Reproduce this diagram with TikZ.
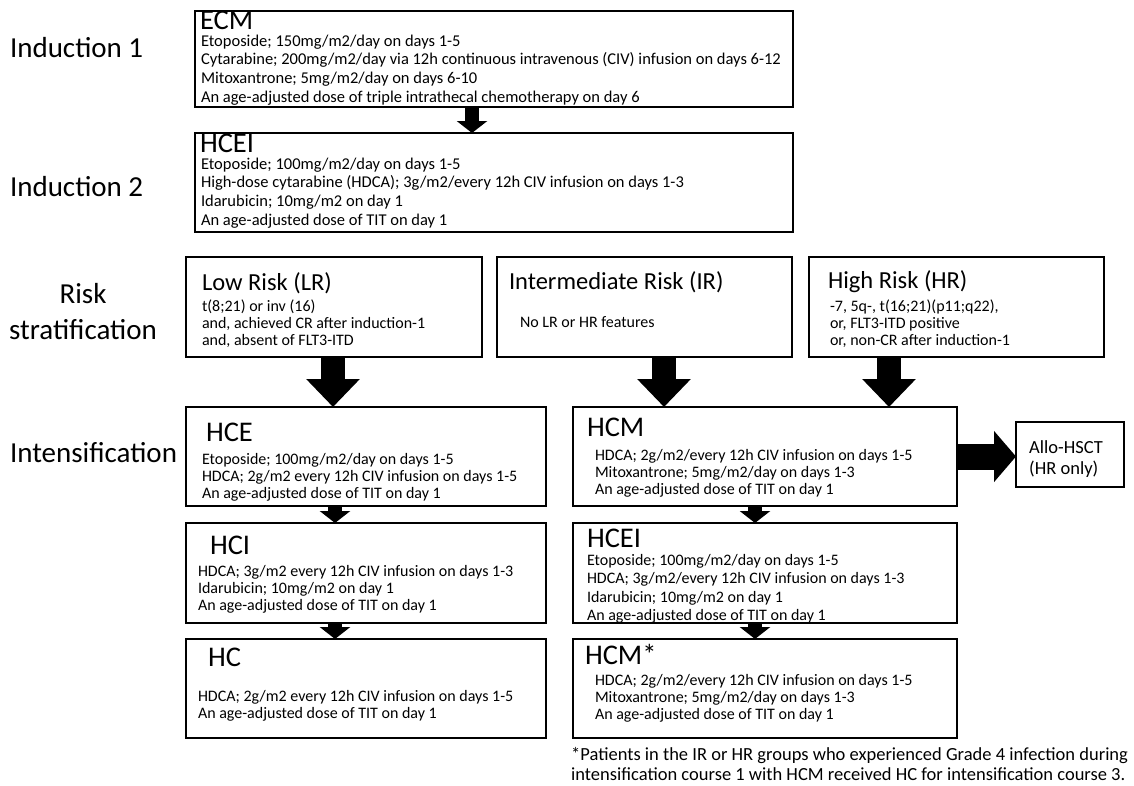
\documentclass[tikz,border=0pt]{standalone}
\usepackage{fontspec}
\setmainfont{Carlito}
\usetikzlibrary{arrows.meta}
\newcommand{\linesT}[1]{\vtop{\def\\{\egroup\hbox\bgroup\ignorespaces}\hbox\bgroup\ignorespaces #1\egroup}}
\begin{document}
\begin{tikzpicture}[x=1pt,y=-1pt,
  box/.style={draw, line width=2.6pt, outer sep=0pt, inner sep=0pt, anchor=north west},
  txt/.style={anchor=base west, inner sep=0pt, outer sep=0pt},
  lbl/.style={anchor=base west, inner sep=0pt, outer sep=0pt, font=\fontsize{29}{33}\selectfont},
  ttl/.style={txt, font=\fontsize{28.5}{30}\selectfont},
  rttl/.style={txt, font=\fontsize{24.5}{26}\selectfont},
  bodyA/.style={txt, font=\fontsize{16.5}{18.7}\selectfont},
  bodyR/.style={txt, font=\fontsize{16}{17}\selectfont},
  bodyI/.style={txt, font=\fontsize{16}{17}\selectfont},
  bodyJ/.style={txt, font=\fontsize{16}{18.5}\selectfont},
  bigarrow/.style={line width=24pt, -{Triangle[width=52pt,length=28pt]}},
  sidearrow/.style={line width=26pt, -{Triangle[width=50pt,length=22pt]}},
  smallarrow/.style={line width=14pt, -{Triangle[width=30pt,length=12pt]}}]
\useasboundingbox (0,0) rectangle (1134,785);

% side labels
\node[lbl] (l1) at (10,57) {Induction 1};
\node[lbl] (l2) at (10,196) {Induction 2};
\node[anchor=base, inner sep=0pt, font=\fontsize{29}{33}\selectfont] (l3a) at (83,303) {Risk};
\node[anchor=base, inner sep=0pt, font=\fontsize{29}{33}\selectfont] (l3b) at (83,339) {stratification};
\node[lbl] (l4) at (10,462) {Intensification};

% boxes
\node[box, minimum width=598pt, minimum height=96pt] (ecm) at (195,11) {};
\node[box, minimum width=598pt, minimum height=99pt] (hcei) at (195,133) {};
\node[box, minimum width=296pt, minimum height=100pt] (lr) at (186,257) {};
\node[box, minimum width=295pt, minimum height=100pt] (ir) at (497,257) {};
\node[box, minimum width=295pt, minimum height=100pt] (hr) at (809,257) {};
\node[box, minimum width=360pt, minimum height=99pt] (hce) at (186,407) {};
\node[box, minimum width=384pt, minimum height=99pt] (hcm) at (573,407) {};
\node[box, minimum width=108pt, minimum height=65pt] (allo) at (1016,422) {};
\node[box, minimum width=360pt, minimum height=100pt] (hci) at (186,523) {};
\node[box, minimum width=384pt, minimum height=100pt] (hceib) at (573,523) {};
\node[box, minimum width=360pt, minimum height=99pt] (hc) at (186,639) {};
\node[box, minimum width=384pt, minimum height=99pt] (hcms) at (573,639) {};

% texts
\node[ttl] (ecmT) at (200,29.5) {ECM};
\node[bodyA] (ecmB) at (201,46) {\linesT{Etoposide; 150mg/m2/day on days 1-5\\
Cytarabine; 200mg/m2/day via 12h continuous intravenous (CIV) infusion on days 6-12\\
Mitoxantrone; 5mg/m2/day on days 6-10\\
An age-adjusted dose of triple intrathecal chemotherapy on day 6}};

\node[ttl] (hceiT) at (200,152.5) {HCEI};
\node[bodyA] (hceiB) at (201,169) {\linesT{Etoposide; 100mg/m2/day on days 1-5\\
High-dose cytarabine (HDCA); 3g/m2/every 12h CIV infusion on days 1-3\\
Idarubicin; 10mg/m2 on day 1\\
An age-adjusted dose of TIT on day 1}};

\node[rttl] (lrT) at (202,290) {Low Risk (LR)};
\node[bodyR] (lrB) at (202,311) {\linesT{t(8;21) or inv (16)\\
and, achieved CR after induction-1\\
and, absent of FLT3-ITD}};

\node[rttl] (irT) at (509,289) {Intermediate Risk (IR)};
\node[bodyR] (irB) at (520,327) {No LR or HR features};

\node[rttl] (hrT) at (828,288) {High Risk (HR)};
\node[bodyR] (hrB) at (830,311) {\linesT{-7, 5q-, t(16;21)(p11;q22),\\
or, FLT3-ITD positive\\
or, non-CR after induction-1}};

\node[ttl] (hceT) at (206,441) {HCE};
\node[bodyI] (hceB) at (202,464) {\linesT{Etoposide; 100mg/m2/day on days 1-5\\
HDCA; 2g/m2 every 12h CIV infusion on days 1-5\\
An age-adjusted dose of TIT on day 1}};

\node[ttl] (hcmT) at (587,436) {HCM};
\node[bodyI] (hcmB) at (595,460) {\linesT{HDCA; 2g/m2/every 12h CIV infusion on days 1-5\\
Mitoxantrone; 5mg/m2/day on days 1-3\\
An age-adjusted dose of TIT on day 1}};

\node[anchor=base west, inner sep=0pt, font=\fontsize{18.5}{21}\selectfont] (alloT) at (1029,453) {\linesT{Allo-HSCT\\(HR only)}};

\node[ttl] (hciT) at (210,554) {HCI};
\node[bodyI] (hciB) at (198,576) {\linesT{HDCA; 3g/m2 every 12h CIV infusion on days 1-3\\
Idarubicin; 10mg/m2 on day 1\\
An age-adjusted dose of TIT on day 1}};

\node[ttl] (hceibT) at (587,547) {HCEI};
\node[bodyJ] (hceibB) at (587,565) {\linesT{Etoposide; 100mg/m2/day on days 1-5\\
HDCA; 3g/m2/every 12h CIV infusion on days 1-3\\
Idarubicin; 10mg/m2 on day 1\\
An age-adjusted dose of TIT on day 1}};

\node[ttl] (hcT) at (208,666) {HC};
\node[bodyI] (hcB) at (198,701) {\linesT{HDCA; 2g/m2 every 12h CIV infusion on days 1-5\\
An age-adjusted dose of TIT on day 1}};

\node[ttl] (hcmsT) at (585,664) {HCM*};
\node[bodyI] (hcmsB) at (595,685) {\linesT{HDCA; 2g/m2/every 12h CIV infusion on days 1-5\\
Mitoxantrone; 5mg/m2/day on days 1-3\\
An age-adjusted dose of TIT on day 1}};

\node[anchor=base west, inner sep=0pt, font=\fontsize{18.5}{20}\selectfont] (foot) at (571,760) {\linesT{*Patients in the IR or HR groups who experienced Grade 4 infection during\\
intensification course 1 with HCM received HC for intensification course 3.}};

% arrow columns
\coordinate (c1) at (472,0);
\coordinate (c2) at (333,0);
\coordinate (c3) at (664,0);
\coordinate (c4) at (889,0);
\coordinate (c5) at (335,0);
\coordinate (c6) at (755,0);

\draw[smallarrow] (ecm.south -| c1) -- (hcei.north -| c1);
\draw[bigarrow] (lr.south -| c2) -- (hce.north -| c2);
\draw[bigarrow] (ir.south -| c3) -- (hcm.north -| c3);
\draw[bigarrow] (hr.south -| c4) -- (hcm.north -| c4);
\draw[sidearrow] (hcm.east) -- (hcm.east -| allo.west);
\draw[smallarrow] (hce.south -| c5) -- (hci.north -| c5);
\draw[smallarrow] (hci.south -| c5) -- (hc.north -| c5);
\draw[smallarrow] (hcm.south -| c6) -- (hceib.north -| c6);
\draw[smallarrow] (hceib.south -| c6) -- (hcms.north -| c6);
\end{tikzpicture}
\end{document}
